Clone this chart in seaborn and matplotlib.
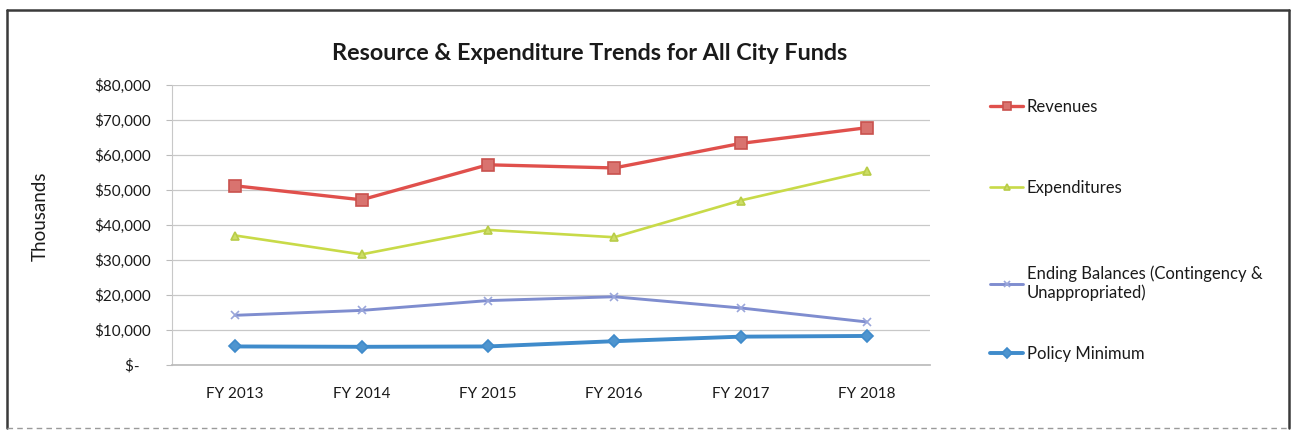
import matplotlib
matplotlib.use("Agg")
import matplotlib.pyplot as plt
from matplotlib.lines import Line2D
from matplotlib.ticker import FuncFormatter
import seaborn as sns
import pandas as pd

# ---- data ----
years = ["FY 2013", "FY 2014", "FY 2015", "FY 2016", "FY 2017", "FY 2018"]
revenues = [51200, 47200, 57200, 56300, 63300, 67800]
expenditures = [37000, 31600, 38600, 36500, 47000, 55300]
ending_balances = [14200, 15600, 18400, 19500, 16300, 12300]
policy_minimum = [5300, 5200, 5300, 6800, 8100, 8300]
series_names = ["Revenues", "Expenditures",
                "Ending Balances (Contingency &\nUnappropriated)", "Policy Minimum"]
y_ticks = [0, 10000, 20000, 30000, 40000, 50000, 60000, 70000, 80000]
title = "Resource & Expenditure Trends for All City Funds"
y_label = "Thousands"

W, H = 1292, 432
sns.set_theme(style="white")
plt.rcParams["font.family"] = ["Lato", "DejaVu Sans"]

fig = plt.figure(figsize=(W / 100, H / 100), dpi=100)
fig.patch.set_facecolor("white")

def fx(px):
    return px / W

def fy(py):
    return 1 - py / H

ax = fig.add_axes([fx(172), fy(365), fx(930) - fx(172), fy(85) - fy(365)])

styles = [
    dict(color="#E0504C", marker="s", markersize=8, mfc="#D9736F", mec="#C9524E", lw=2.4),
    dict(color="#C8DA48", marker="^", markersize=6, mfc="#CCDD66", mec="#B8CC48", lw=1.9),
    dict(color="#7F8DCF", marker="x", markersize=6, mec="#9AA6DA", lw=2.1),
    dict(color="#3F8BCB", marker="D", markersize=6, mfc="#4F95CF", mec="#3F8BCB", lw=2.8),
]
values = [revenues, expenditures, ending_balances, policy_minimum]

for name, vals, st in zip(series_names, values, styles):
    df = pd.DataFrame({"year": years, "value": vals})
    sns.lineplot(data=df, x="year", y="value", ax=ax, legend=False, label=name,
                 sort=False, color=st["color"], marker=st["marker"],
                 markersize=st["markersize"], markerfacecolor=st.get("mfc", st["color"]),
                 markeredgecolor=st["mec"], markeredgewidth=1.2, linewidth=st["lw"])

if ax.get_legend() is not None:
    ax.get_legend().remove()

ax.set_xlim(-0.5, len(years) - 0.5)
ax.set_ylim(0, 80000)
ax.set_yticks(y_ticks)
ax.yaxis.set_major_formatter(FuncFormatter(lambda v, p: "$-   " if v == 0 else f"${v:,.0f}"))
ax.set_xlabel("")
ax.set_ylabel("")
ax.grid(axis="y", color="#C8C8C8", linewidth=0.9)
ax.grid(axis="x", visible=False)
ax.set_axisbelow(True)
for s in ["top", "right"]:
    ax.spines[s].set_visible(False)
ax.spines["left"].set_color("#C8C8C8")
ax.spines["bottom"].set_color("#BBBBBB")
ax.spines["left"].set_linewidth(0.8)
ax.tick_params(axis="y", which="major", left=True, length=4, width=0.8, color="#BBBBBB",
               pad=11, labelsize=11, labelcolor="#1A1A1A")
ax.tick_params(axis="x", length=0, pad=16, labelsize=11, labelcolor="#1A1A1A")

fig.text(fx(590), fy(53), title, ha="center", va="center", fontsize=16.8,
         fontweight="bold", color="#1A1A1A")
fig.text(fx(40), fy(216), y_label, ha="center", va="center", rotation=90,
         fontsize=13.5, color="#1A1A1A")

# legend entries (one per series, placed at the reference rows)
handles, labels = ax.get_legend_handles_labels()
rows = [107, 188, 283, 354]
for h, lab, yy in zip(handles, labels, rows):
    fig.legend([h], [lab], loc="center left", bbox_to_anchor=(fx(990), fy(yy)),
               frameon=False, borderpad=0, borderaxespad=0, handlelength=2.0,
               handletextpad=0.2, fontsize=12, labelcolor="#1A1A1A",
               markerscale=0.8)

# outer frame
frame_kw = dict(transform=fig.transFigure, color="#3A3A3A", linewidth=1.8)
fig.add_artist(Line2D([fx(7), fx(1289)], [fy(10), fy(10)], **frame_kw))
fig.add_artist(Line2D([fx(7), fx(7)], [fy(10), fy(428)], **frame_kw))
fig.add_artist(Line2D([fx(1289), fx(1289)], [fy(10), fy(428)], **frame_kw))
fig.add_artist(Line2D([fx(7), fx(1289)], [fy(428), fy(428)], transform=fig.transFigure,
                      color="#9A9A9A", linewidth=1.0, linestyle=(0, (4, 3))))

fig.savefig("out.png", dpi=100, facecolor="white")
